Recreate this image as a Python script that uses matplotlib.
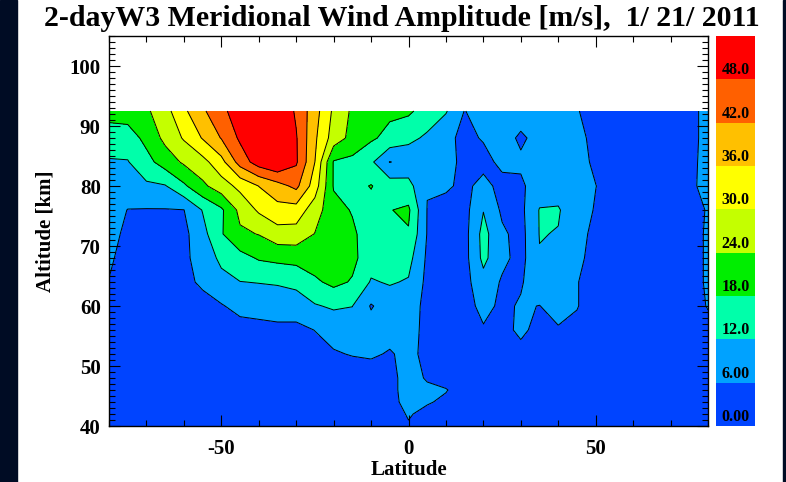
import numpy as np
import matplotlib
matplotlib.use("Agg")
import matplotlib.pyplot as plt
from matplotlib.colors import ListedColormap
from matplotlib.patches import Rectangle
from matplotlib.ticker import MultipleLocator

# grid of the amplitude field
lat = [-80, -75, -70, -65, -60, -55, -50, -45, -40, -35, -30, -25, -20, -15, -10, -5,
       0, 5, 10, 15, 20, 25, 30, 35, 40, 45, 50, 55, 60, 65, 70, 75, 80]
alt = [40, 42, 44, 46, 48, 52, 56, 60, 64, 68, 72, 76, 80, 84, 88, 92.5]

# one row per altitude, west -> east  [m/s]
amp_40 = [3, 3, 2.5, 2.5, 2.5, 2.5, 2.5, 2.5, 3, 3, 3, 3, 3, 3, 3, 3.5,
          5.5, 4, 3.5, 3, 3, 3, 3, 3, 3, 3, 3, 3, 3, 3, 3, 3, 3]
amp_42 = [3, 3, 2.5, 2.5, 2.5, 2.5, 2.5, 2.5, 3, 3, 3, 3, 3, 3, 3, 3.5,
          6.5, 4.5, 3.5, 3, 3, 3, 3, 3, 3, 3, 3, 3, 3, 3, 3, 3, 3]
amp_44 = [3, 3, 2.5, 2.5, 2.5, 2.5, 2.5, 2.5, 3, 3, 3, 3, 3, 3, 3, 4.5,
          7.5, 6.5, 5, 3.5, 3, 3, 3, 3, 3, 3, 3, 3, 3, 3, 3, 3, 3]
amp_46 = [3, 3, 2.5, 2.5, 2.5, 2.5, 2.5, 2.5, 3, 3, 3, 3, 3, 3, 3, 4.5,
          8, 7, 6.3, 3.5, 3, 3, 3, 3, 3, 3, 3, 3, 3, 3, 3, 3, 3]
amp_48 = [3, 3, 2.5, 2.5, 2.5, 2.5, 2.5, 2.5, 3, 3, 3, 3, 3, 3, 3, 4.5,
          8, 5.5, 4, 3, 3, 3, 3, 3, 3, 3, 3, 3, 3, 3, 3, 3, 3]
amp_52 = [3, 3, 2.5, 2.5, 2.5, 2.5, 3, 3, 3, 3.5, 3.5, 4, 5.5, 6.3, 6.8, 5.5,
          7.5, 4.5, 3, 3, 3, 3.5, 4.5, 3.5, 3.5, 3.5, 3, 3, 3, 3, 3, 3, 3]
amp_56 = [3, 2.5, 2.5, 2.5, 2.5, 3, 3, 3.5, 4, 4.5, 4.5, 6.1, 8, 9, 8.5, 8,
          8, 4.5, 3, 3.5, 5.5, 4.5, 7, 4.5, 5.5, 5, 3.5, 3, 3, 3, 3, 4, 5]
amp_60 = [3, 2.5, 2.5, 2.5, 3, 4, 5.5, 8, 8.5, 9, 9, 11.5, 12.8, 12.1, 5.5, 9,
          8.5, 4.5, 3, 4, 7.5, 5, 6.5, 5.9, 8, 6.2, 4, 3, 3, 3, 3, 4.5, 6.2]
amp_64 = [5.8, 3, 2.5, 2.5, 4.5, 7, 10.5, 11.9, 12.2, 12.5, 13.5, 17, 19.5, 17.5, 11.5, 12.5,
          11.5, 4.5, 3, 4, 10, 5.3, 5.5, 9, 9, 6.2, 4, 3, 3, 3, 3, 4.5, 6.5]
amp_68 = [7, 3.5, 3, 3, 4.5, 9, 13.1, 15.9, 18.6, 19.5, 20, 21, 21, 19.5, 14.5, 14,
          14, 5, 3, 4, 13.5, 7.5, 4, 11.7, 10, 7, 4.5, 3, 3, 3, 3, 4.5, 6.5]
amp_72 = [9, 4, 3, 3, 4.5, 10, 17.5, 23, 24.2, 27.5, 27.5, 23.8, 20.5, 19, 15, 16,
          17.5, 5.7, 3, 4, 14, 7, 4, 12.2, 11.8, 8, 4.5, 3, 3, 3, 3, 4.5, 6.5]
amp_76 = [10, 5.8, 5.7, 5.7, 5.9, 12.3, 17, 25.6, 30.9, 34, 33.5, 26.8, 20, 17.6, 16, 17.8,
          19, 5.8, 3.5, 4, 11.8, 5, 4.5, 12.3, 12.4, 9, 5.5, 3, 3, 3, 3, 4.5, 6.3]
amp_80 = [10.5, 11, 11, 11.6, 17, 22.7, 27.3, 31.6, 36.1, 39.7, 43.5, 33, 17.5, 16, 18.3, 15,
          14, 6.3, 7, 4.5, 8, 4, 5, 9, 10, 9, 6.1, 3.5, 3, 3, 3, 5, 7.5]
amp_84 = [11.3, 11.7, 16, 20.8, 24.9, 28, 34, 44.5, 51, 54, 48.8, 36, 17.5, 16.5, 13, 5.8,
          8, 9, 8, 4.5, 4, 7.5, 7, 9, 9, 8, 5, 3, 3, 3, 3, 5.2, 7]
amp_88 = [16, 15, 19.7, 25.5, 30.6, 36.4, 42.3, 49, 53, 52, 48.5, 37, 27.3, 22.1, 18.9, 16.2,
          13.5, 11, 7.5, 4.5, 6.5, 8.5, 5, 8, 8.5, 7, 5, 3, 3, 3, 3, 5, 7]
amp_92 = [19.5, 21, 23, 27.8, 34.8, 41.1, 46.1, 52, 56, 54, 47.1, 38.4, 28.9, 23, 21, 19.2,
          19, 15.5, 12.5, 5.8, 9, 10, 9, 9, 8.5, 6.3, 4, 3, 3, 3, 3, 5, 7]

levels = [0, 6, 12, 18, 24, 30, 36, 42, 48, 1000]
bar_labels = ["0.00", "6.00", "12.0", "18.0", "24.0", "30.0", "36.0", "42.0", "48.0"]
band_colors = ["#0044ff", "#00a2ff", "#00ffaa", "#00ee00", "#c4ff00",
               "#ffff00", "#ffc000", "#ff6000", "#ff0000"]

amp = np.array([amp_40, amp_42, amp_44, amp_46, amp_48, amp_52, amp_56, amp_60,
                amp_64, amp_68, amp_72, amp_76, amp_80, amp_84, amp_88, amp_92])

plt.rcParams["font.family"] = ["Liberation Serif", "DejaVu Serif"]
plt.rcParams["font.weight"] = "bold"
plt.rcParams["axes.unicode_minus"] = False

fig = plt.figure(figsize=(7.86, 4.82), dpi=100)
fig.patches.append(Rectangle((0, 0), 17 / 786, 1, transform=fig.transFigure,
                             color="#000c24", zorder=0))
fig.patches.append(Rectangle((783 / 786, 0), 3 / 786, 1, transform=fig.transFigure,
                             color="#000c24", zorder=0))

ax = fig.add_axes([109 / 786, 56 / 482, 599 / 786, 390 / 482])
ax.contourf(lat, alt, amp, levels=levels, colors=band_colors)
ax.contour(lat, alt, amp, levels=levels[1:-1], colors="k", linewidths=0.7)

ax.set_xlim(-80, 80)
ax.set_ylim(40, 105)
ax.xaxis.set_major_locator(MultipleLocator(50))
ax.xaxis.set_minor_locator(MultipleLocator(10))
ax.yaxis.set_major_locator(MultipleLocator(10))
ax.yaxis.set_minor_locator(MultipleLocator(1))
ax.tick_params(which="both", direction="in", top=True, right=True, width=0.8)
ax.tick_params(which="major", length=8, labelsize=15)
ax.tick_params(axis="x", which="major", pad=9)
ax.tick_params(axis="y", which="major", pad=6)
ax.tick_params(which="minor", length=4)
ax.set_yticks([40, 50, 60, 70, 80, 90, 100])
for sp in ax.spines.values():
    sp.set_linewidth(1.0)

ax.set_xlabel("Latitude", fontsize=15, fontweight="bold", labelpad=1)
ax.set_ylabel("Altitude [km]", fontsize=15, fontweight="bold", labelpad=10)
fig.text(0.511, 0.962, "2-dayW3 Meridional Wind Amplitude [m/s],  1/ 21/ 2011",
         ha="center", va="center", fontsize=21.5, fontweight="bold")

# colour bar, one block per level
cax = fig.add_axes([716 / 786, 56 / 482, 39 / 786, 390 / 482])
nb = len(band_colors)
cax.pcolormesh([0, 1], np.arange(nb + 1), np.arange(nb).reshape(nb, 1),
               cmap=ListedColormap(band_colors), vmin=-0.5, vmax=nb - 0.5)
for i, lab in enumerate(bar_labels):
    cax.text(0.5, i + 0.02, lab, ha="center", va="bottom", fontsize=11.5,
             fontweight="bold")
cax.set_xlim(0, 1)
cax.set_ylim(0, nb)
cax.axis("off")

fig.savefig("out.png", dpi=100)
